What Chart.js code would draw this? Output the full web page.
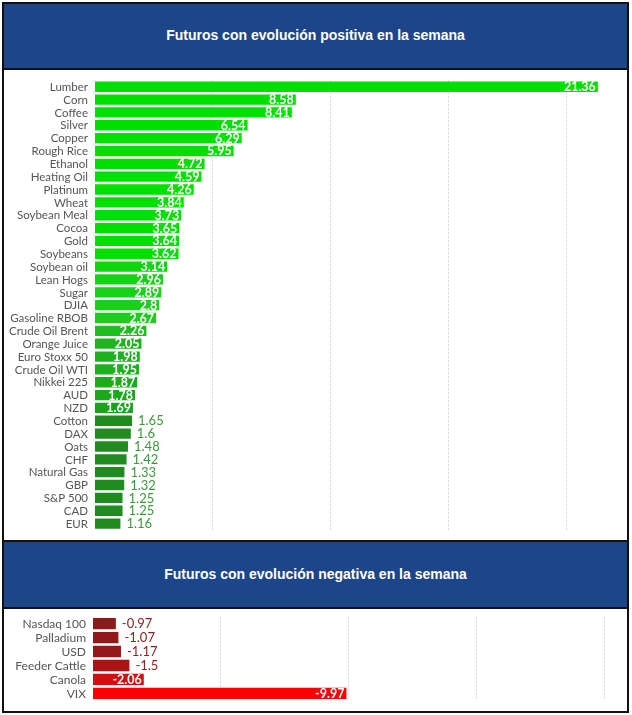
<!DOCTYPE html>
<html><head><meta charset="utf-8">
<script src="https://cdn.jsdelivr.net/npm/chart.js@4"></script>
<style>
html,body{margin:0;padding:0;background:#fff;width:632px;height:715px;overflow:hidden;}
.abs{position:absolute;box-sizing:border-box;}
#frame{left:2px;top:2px;width:627px;height:711px;border:2px solid #111;}
.hdr{background:#1d4589;color:#fff;font:bold 14px "Liberation Sans",Arial,sans-serif;text-align:center;display:flex;align-items:center;justify-content:center;}
#h1{left:4px;top:4px;width:623px;height:66px;border-bottom:2px solid #111;padding-bottom:3px;}
#h2{left:4px;top:540px;width:623px;height:69px;border-top:2px solid #111;border-bottom:2px solid #111;padding-bottom:1px;}
</style></head>
<body>
<div class="abs" id="frame"></div>
<div class="abs hdr" id="h1">Futuros con evolución positiva en la semana</div>
<div class="abs hdr" id="h2">Futuros con evolución negativa en la semana</div>
<div class="abs" style="left:4px;top:70px;width:623px;height:470px;"><canvas id="c1"></canvas></div>
<div class="abs" style="left:4px;top:609px;width:623px;height:103px;"><canvas id="c2"></canvas></div>
<script>
const posCategories = ["Lumber","Corn","Coffee","Silver","Copper","Rough Rice","Ethanol","Heating Oil","Platinum","Wheat","Soybean Meal","Cocoa","Gold","Soybeans","Soybean oil","Lean Hogs","Sugar","DJIA","Gasoline RBOB","Crude Oil Brent","Orange Juice","Euro Stoxx 50","Crude Oil WTI","Nikkei 225","AUD","NZD","Cotton","DAX","Oats","CHF","Natural Gas","GBP","S&P 500","CAD","EUR"];
const posValues = [21.36,8.58,8.41,6.54,6.29,5.95,4.72,4.59,4.26,3.84,3.73,3.65,3.64,3.62,3.14,2.96,2.89,2.8,2.67,2.26,2.05,1.98,1.95,1.87,1.78,1.69,1.65,1.6,1.48,1.42,1.33,1.32,1.25,1.25,1.16];
const negCategories = ["Nasdaq 100","Palladium","USD","Feeder Cattle","Canola","VIX"];
const negValues = [-0.97,-1.07,-1.17,-1.5,-2.06,-9.97];
const gridTicks = [5,10,15,20];

function interp(stops, v){
  if (v >= stops[0][0]) return stops[0][1];
  for (let i=1;i<stops.length;i++){
    if (v >= stops[i][0]){
      const [a,ca]=stops[i-1],[b,cb]=stops[i];
      const t=(v-b)/(a-b);
      return ca.map((x,k)=>Math.round(cb[k]+(x-cb[k])*t));
    }
  }
  return stops[stops.length-1][1];
}
const posStops = [[3.6,[0,224,0]],[2.5,[34,200,34]],[1.68,[28,162,28]],[1.67,[32,140,32]]];
const negStops = [[9.97,[255,0,0]],[2.06,[212,14,14]],[1.5,[170,20,20]],[0.97,[139,26,26]]];
const rgb = c => `rgb(${c[0]},${c[1]},${c[2]})`;

const labelPlugin = {
  id:'vlabels',
  afterDatasetsDraw(chart, args, opts){
    const ctx = chart.ctx;
    const meta = chart.getDatasetMeta(0);
    const data = chart.data.datasets[0].data;
    const cats = chart.data.labels;
    ctx.save();
    ctx.textBaseline='middle';
    meta.data.forEach((bar,i)=>{
      ctx.font = opts.catFont;
      ctx.fillStyle = '#555';
      ctx.textAlign = 'right';
      ctx.fillText(cats[i], chart.chartArea.left - 6, bar.y + 0.5);
      const v = data[i];
      const txt = String(v);
      const inside = Math.abs(v) >= opts.threshold;
      if (inside){
        ctx.font='bold 12.5px Lato';
        ctx.textAlign='right';
        ctx.fillStyle='#fff';
        ctx.fillText(txt, bar.x-3, bar.y+0.5);
      } else {
        ctx.font='13px Lato';
        ctx.textAlign='left';
        ctx.fillStyle=opts.outColor;
        ctx.fillText(txt, bar.x+5, bar.y+0.5);
      }
    });
    ctx.restore();
  }
};

function makeChart(id, cats, vals, colorFn, xOpts, pad, yWidth, lblOpts){
  return new Chart(document.getElementById(id), {
    type:'bar',
    data:{labels:cats, datasets:[{data:vals,
      backgroundColor: c => colorFn(Math.abs(c.raw)),
      borderColor:'rgba(255,255,255,0.45)', borderWidth:1, borderSkipped:false,
      barPercentage:0.96, categoryPercentage:1}]},
    options:{
      indexAxis:'y', responsive:true, maintainAspectRatio:false, animation:false,
      layout:{padding:pad},
      plugins:{legend:{display:false}, tooltip:{enabled:false}, vlabels:lblOpts},
      scales:{
        x:Object.assign({
          ticks:{display:false},
          border:{display:false, dash:[2,2]},
          afterFit(s){s.height=0;},
          afterBuildTicks(s){ s.ticks = gridTicks.map(t=>({value: xOpts.sign*t})); },
          grid:{drawTicks:false, color:'#d4d4d4', lineWidth:1}
        }, xOpts.scale),
        y:{
          border:{display:false},
          grid:{display:false, drawTicks:false},
          afterFit(s){s.width=yWidth;},
          ticks:{display:false}
        }
      }
    },
    plugins:[labelPlugin]
  });
}

makeChart('c1', posCategories, posValues, v=>rgb(interp(posStops,v)),
  {sign:1, scale:{min:0, max:22}}, {top:10.3, bottom:10, right:13, left:0}, 90,
  {threshold:1.67, outColor:'#3a9a3a', catFont:'11.5px Lato'});
makeChart('c2', negCategories, negValues, v=>rgb(interp(negStops,v)),
  {sign:-1, scale:{min:-20.3, max:0, reverse:true}}, {top:7.7, bottom:11.7, right:15, left:0}, 88,
  {threshold:2, outColor:'#8b2323', catFont:'12px Lato'});
</script>
</body></html>
